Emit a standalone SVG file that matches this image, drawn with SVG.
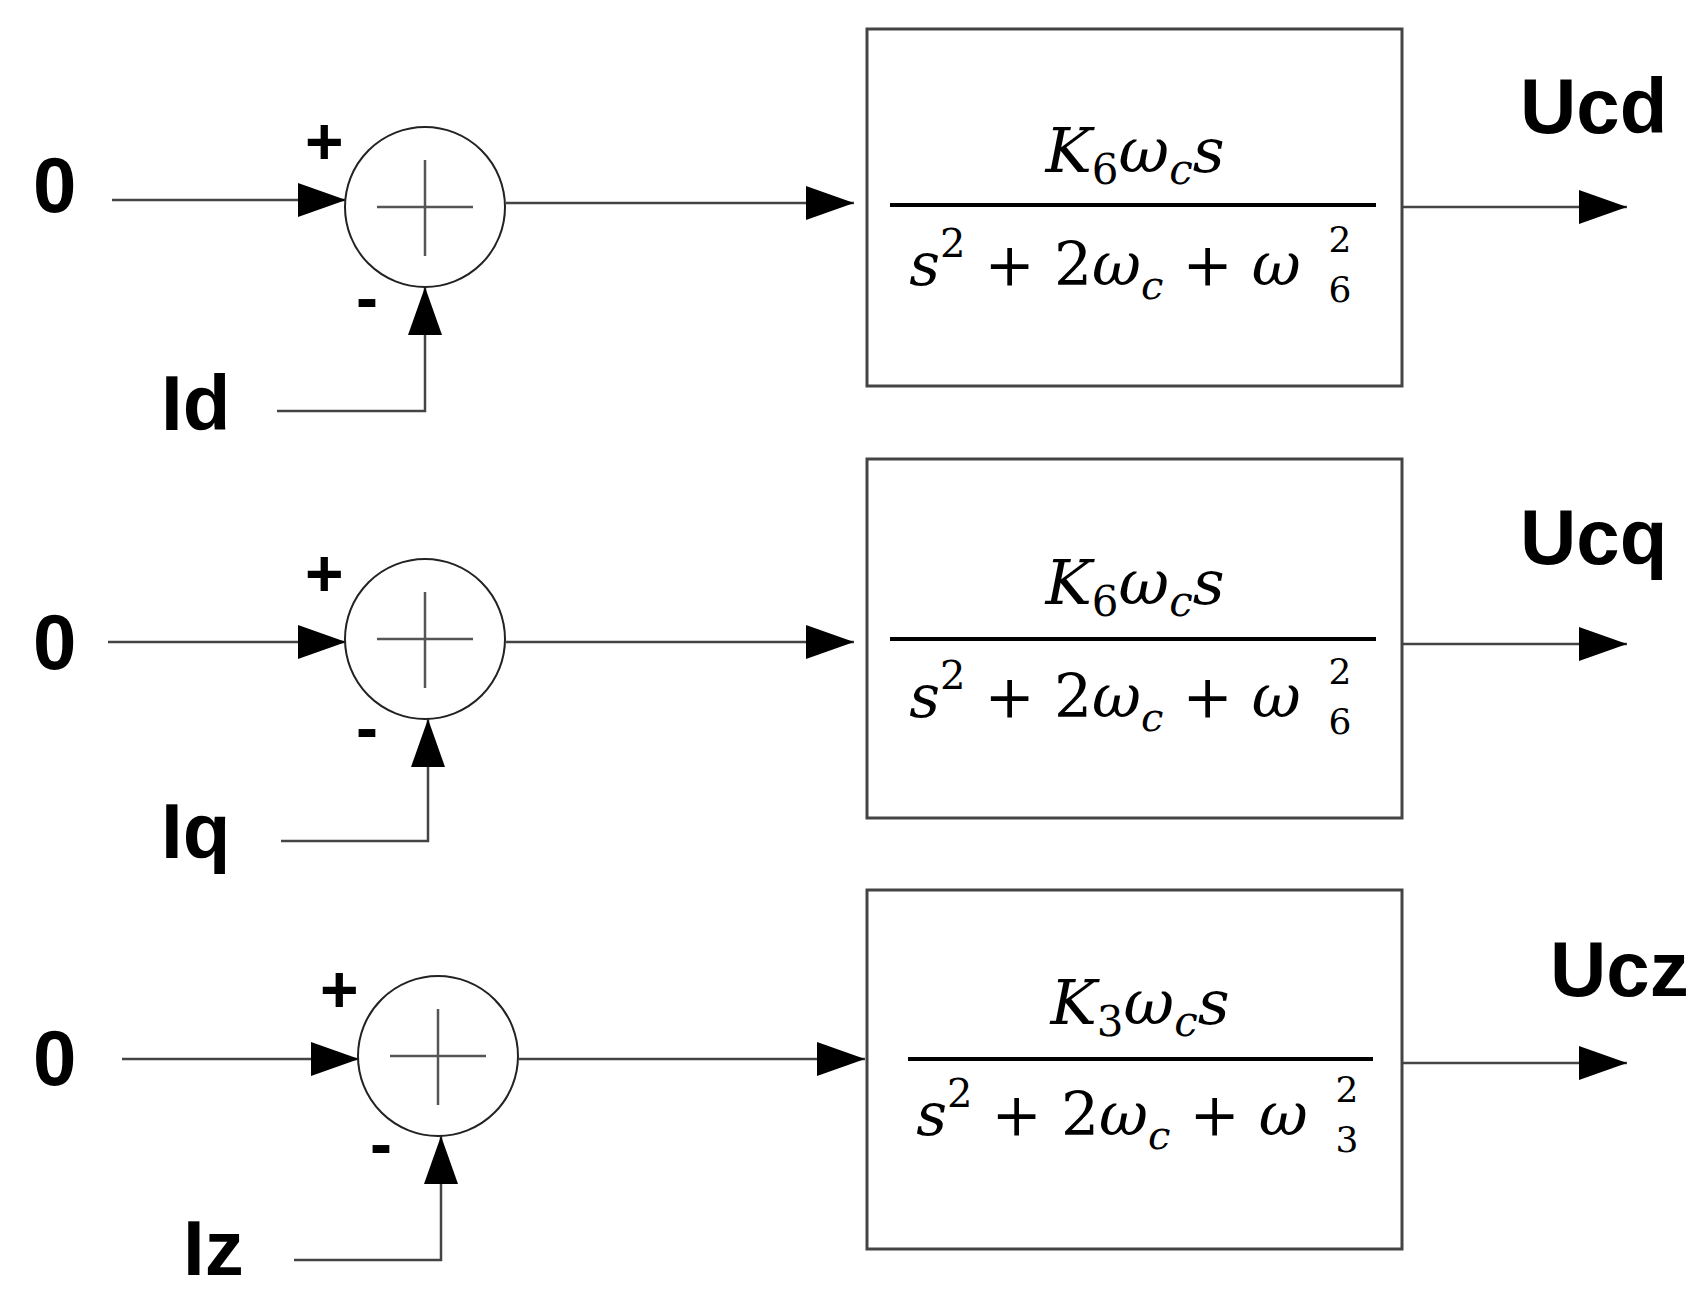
<svg xmlns="http://www.w3.org/2000/svg" width="1697" height="1308" viewBox="0 0 1697 1308">
<defs>
<marker id="ah" markerUnits="userSpaceOnUse" markerWidth="50" markerHeight="34" refX="48" refY="17" orient="auto"><path d="M0,0 L48,17 L0,34 Z" fill="#000"/></marker>
<style>
.ar{stroke:#444;stroke-width:2.5;fill:none;marker-end:url(#ah)}
.box{fill:#fff;stroke:#444;stroke-width:3}
.sum{fill:#fff;stroke:#222;stroke-width:2}
.cr{stroke:#555;stroke-width:2.5}
.lb{font-family:"Liberation Sans",Arial,sans-serif;font-weight:bold;font-size:78px;fill:#000}
.sg{font-family:"Liberation Sans",Arial,sans-serif;font-weight:bold;font-size:66px;fill:#000}
.m{font-family:"DejaVu Serif","Liberation Serif",serif;font-style:italic;font-size:62px;fill:#000}
.d{font-size:60px}
.up{font-style:normal}
.sx{font-family:"DejaVu Serif","Liberation Serif",serif;font-size:36px;fill:#000}
.fr{stroke:#000;stroke-width:4}
</style>
</defs>
<g id="connectors">
<line class="ar" x1="112" y1="200" x2="346" y2="200"/>
<polyline class="ar" points="277,411 425,411 425,287"/>
<line class="ar" x1="506" y1="203" x2="854" y2="203"/>
<line class="ar" x1="1403" y1="207" x2="1627" y2="207"/>
<line class="ar" x1="108" y1="642" x2="346" y2="642"/>
<polyline class="ar" points="281,841 428,841 428,719"/>
<line class="ar" x1="506" y1="642" x2="854" y2="642"/>
<line class="ar" x1="1403" y1="644" x2="1627" y2="644"/>
<line class="ar" x1="122" y1="1059" x2="359" y2="1059"/>
<polyline class="ar" points="294,1260 441,1260 441,1136"/>
<line class="ar" x1="519" y1="1059" x2="865" y2="1059"/>
<line class="ar" x1="1403" y1="1063" x2="1627" y2="1063"/>
</g>
<g id="sum1"><circle class="sum" cx="425" cy="207" r="80"/><line class="cr" x1="377" y1="207" x2="473" y2="207"/><line class="cr" x1="425" y1="160" x2="425" y2="256"/></g>
<g id="sum2"><circle class="sum" cx="425" cy="639" r="80"/><line class="cr" x1="377" y1="639" x2="473" y2="639"/><line class="cr" x1="425" y1="592" x2="425" y2="688"/></g>
<g id="sum3"><circle class="sum" cx="438" cy="1056" r="80"/><line class="cr" x1="390" y1="1056" x2="486" y2="1056"/><line class="cr" x1="438" y1="1009" x2="438" y2="1105"/></g>
<g id="block1"><rect class="box" x="867" y="29" width="535" height="357"/>
<text class="m" x="1135" y="172" text-anchor="middle">K<tspan class="up" font-size="42" dy="12">6</tspan><tspan dy="-12">ω</tspan><tspan font-size="42" dy="12">c</tspan><tspan dy="-12">s</tspan></text>
<line class="fr" x1="890" y1="205" x2="1376" y2="205"/>
<text class="m d" x="1105" y="285" text-anchor="middle">s<tspan class="up" font-size="40" dy="-28">2</tspan><tspan class="up" dy="28"> + 2</tspan><tspan>ω</tspan><tspan font-size="40" dy="14">c</tspan><tspan class="up" dy="-14"> + </tspan><tspan>ω</tspan></text>
<text class="sx" x="1340" y="252" text-anchor="middle">2</text>
<text class="sx" x="1340" y="302" text-anchor="middle">6</text>
</g>
<g id="block2"><rect class="box" x="867" y="459" width="535" height="359"/>
<text class="m" x="1135" y="604" text-anchor="middle">K<tspan class="up" font-size="42" dy="12">6</tspan><tspan dy="-12">ω</tspan><tspan font-size="42" dy="12">c</tspan><tspan dy="-12">s</tspan></text>
<line class="fr" x1="890" y1="639" x2="1376" y2="639"/>
<text class="m d" x="1105" y="717" text-anchor="middle">s<tspan class="up" font-size="40" dy="-28">2</tspan><tspan class="up" dy="28"> + 2</tspan><tspan>ω</tspan><tspan font-size="40" dy="14">c</tspan><tspan class="up" dy="-14"> + </tspan><tspan>ω</tspan></text>
<text class="sx" x="1340" y="684" text-anchor="middle">2</text>
<text class="sx" x="1340" y="734" text-anchor="middle">6</text>
</g>
<g id="block3"><rect class="box" x="867" y="890" width="535" height="359"/>
<text class="m" x="1140" y="1024" text-anchor="middle">K<tspan class="up" font-size="42" dy="12">3</tspan><tspan dy="-12">ω</tspan><tspan font-size="42" dy="12">c</tspan><tspan dy="-12">s</tspan></text>
<line class="fr" x1="908" y1="1059" x2="1373" y2="1059"/>
<text class="m d" x="1112" y="1135" text-anchor="middle">s<tspan class="up" font-size="40" dy="-28">2</tspan><tspan class="up" dy="28"> + 2</tspan><tspan>ω</tspan><tspan font-size="40" dy="14">c</tspan><tspan class="up" dy="-14"> + </tspan><tspan>ω</tspan></text>
<text class="sx" x="1347" y="1102" text-anchor="middle">2</text>
<text class="sx" x="1347" y="1152" text-anchor="middle">3</text>
</g>
<g id="labels">
<text class="lb" x="33" y="212">0</text>
<text class="lb" x="33" y="669">0</text>
<text class="lb" x="33" y="1085">0</text>
<text class="lb" x="161" y="430">Id</text>
<text class="lb" x="161" y="858">Iq</text>
<text class="lb" x="183" y="1275">Iz</text>
<text class="lb" x="1520" y="133">Ucd</text>
<text class="lb" x="1520" y="564">Ucq</text>
<text class="lb" x="1550" y="996">Ucz</text>
<text class="sg" x="305" y="164">+</text>
<text class="sg" x="305" y="596">+</text>
<text class="sg" x="320" y="1012">+</text>
<text class="sg" x="356" y="320">-</text>
<text class="sg" x="356" y="750">-</text>
<text class="sg" x="370" y="1166">-</text>
</g>
</svg>
